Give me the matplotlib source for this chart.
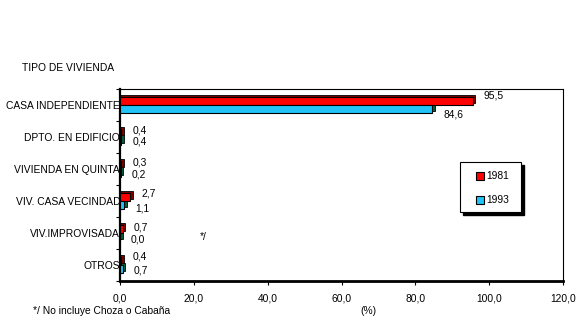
import numpy as np
import matplotlib.pyplot as plt
from matplotlib.patches import Rectangle

plt.rcParams['font.family'] = ['Liberation Sans', 'DejaVu Sans']
fs = 7.4

categorias = ["CASA INDEPENDIENTE", "DPTO. EN EDIFICIO", "VIVIENDA EN QUINTA",
              "VIV. CASA VECINDAD", "VIV.IMPROVISADA", "OTROS"]
v1981 = [95.5, 0.4, 0.3, 2.7, 0.7, 0.4]
v1993 = [84.6, 0.4, 0.2, 1.1, 0.0, 0.7]
xticks = [0, 20, 40, 60, 80, 100, 120]

# desplazamiento vertical de las etiquetas (unidades de categoria)
off81 = [-0.31, -0.19, -0.19, -0.25, -0.16, -0.28]
off93 = [0.31, 0.13, 0.16, 0.22, 0.19, 0.16]

rojo = "#ff0000"
rojo_osc = "#7a0000"
azul = "#22c4f8"
azul_osc = "#00603c"

fig = plt.figure(figsize=(5.85, 3.26), dpi=100)
ax = fig.add_axes([120 / 585, 1 - 281 / 326, 443 / 585, 192 / 326])

y = np.arange(len(categorias))
h = 0.25
dx = 0.7  # "profundidad" de la barra 3D
dy = 0.05

# sombras (efecto 3D)
ax.barh(y - h / 2 - dy, np.array(v1981) + dx, height=h, color=rojo_osc, edgecolor="black", linewidth=0.6, zorder=2)
ax.barh(y + h / 2 - dy, np.array(v1993) + dx, height=h, color=azul_osc, edgecolor="black", linewidth=0.6, zorder=2)
# barras
ax.barh(y - h / 2, v1981, height=h, color=rojo, edgecolor="black", linewidth=0.8, zorder=3)
ax.barh(y + h / 2, v1993, height=h, color=azul, edgecolor="black", linewidth=0.8, zorder=3)

for i in range(len(categorias)):
    ax.text(v1981[i] + 3.0, y[i] + off81[i], f"{v1981[i]:.1f}".replace(".", ","),
            fontsize=fs, ha="left", va="center")
    ax.text(v1993[i] + 3.0, y[i] + off93[i], f"{v1993[i]:.1f}".replace(".", ","),
            fontsize=fs, ha="left", va="center")

ax.set_xlim(0, 120)
ax.set_ylim(len(categorias) - 0.5, -0.5)
ax.set_xticks(xticks)
ax.set_xticklabels([f"{t:.1f}".replace(".", ",") for t in xticks], fontsize=fs)
ax.set_yticks(y)
ax.set_yticklabels(categorias, fontsize=fs)
ax.tick_params(axis="y", length=0, pad=0)
ax.set_yticks(np.arange(-0.5, len(categorias)), minor=True)
ax.tick_params(axis="y", which="minor", length=3, width=0.8)
ax.tick_params(axis="x", length=3, width=0.8, pad=6)

ax.spines["left"].set_linewidth(1.6)
ax.spines["bottom"].set_linewidth(2)
ax.spines["top"].set_linewidth(0.8)
ax.spines["right"].set_linewidth(0.8)

# leyenda con sombra
lx, ly, lw, lh = 460 / 585, 1 - 212 / 326, 61 / 585, 50 / 326
fig.patches.append(Rectangle((lx + 3 / 585, ly - 3 / 326), lw, lh, transform=fig.transFigure,
                             facecolor="black", edgecolor="black", zorder=5))
fig.patches.append(Rectangle((lx, ly), lw, lh, transform=fig.transFigure,
                             facecolor="white", edgecolor="black", linewidth=0.8, zorder=6))
for yy, col, lab in [(176, rojo, "1981"), (200, azul, "1993")]:
    fig.patches.append(Rectangle((476 / 585, 1 - (yy + 4) / 326), 8 / 585, 8 / 326,
                                 transform=fig.transFigure, facecolor=col,
                                 edgecolor="black", linewidth=0.8, zorder=7))
    fig.text(486 / 585, 1 - yy / 326, lab, fontsize=fs, va="center", ha="left", zorder=8)

fig.text(22 / 585, 1 - 68 / 326, "TIPO DE VIVIENDA", fontsize=fs, va="center")
fig.text(200 / 585, 1 - 237 / 326, "*/", fontsize=fs, va="center")
fig.text(33 / 585, 1 - 311 / 326, "*/ No incluye Choza o Cabaña", fontsize=fs, va="center")
fig.text(360 / 585, 1 - 311 / 326, "(%)", fontsize=fs, va="center")

fig.savefig("out.png", dpi=100)
